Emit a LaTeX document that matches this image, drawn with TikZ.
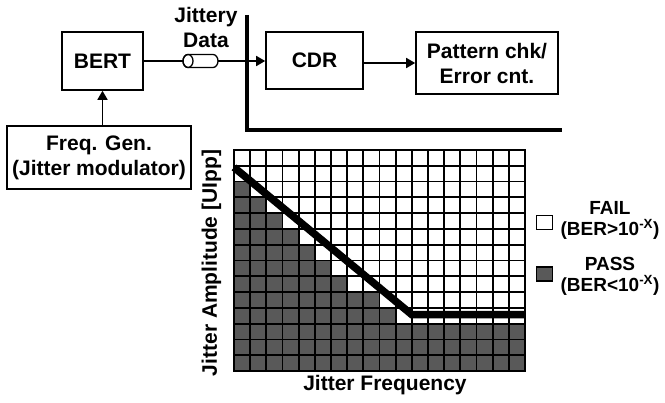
\documentclass[tikz,border=0pt]{standalone}
\usepackage{fontspec}
\setmainfont{Liberation Sans}
\usetikzlibrary{arrows.meta}
\newcommand\bigfnt{\fontsize{21}{25}\selectfont\bfseries}
\newcommand\legfnt{\fontsize{19}{21}\selectfont\bfseries}
\definecolor{passc}{RGB}{89,89,89}
\begin{document}
\begin{tikzpicture}[x=1pt,y=-1pt,
  box/.style={draw, line width=1.6pt, inner sep=0, align=center, font=\bigfnt},
  conn/.style={line width=1.6pt},
  arr/.style={line width=1.6pt, -{Triangle[length=9pt,width=10pt]}},
  gridl/.style={line width=1.8pt},
  lbl/.style={inner sep=0, align=center, font=\bigfnt},
  leg/.style={inner sep=0, align=center, font=\legfnt},
  legbox/.style={draw, line width=1.6pt, minimum width=16pt, minimum height=14pt, inner sep=0}
]
\useasboundingbox (0,0) rectangle (665,403);

% blocks
\node[box, minimum width=81pt, minimum height=58pt] (bert) at (102.5,61) {BERT};
\node[box, minimum width=97pt, minimum height=57pt] (cdr) at (314.5,60.5) {CDR};
\node[box, minimum width=142pt, minimum height=62pt] (pat) at (487,63) {Pattern chk/\\Error cnt.};
\node[box, minimum width=184pt, minimum height=63pt] (freq) at (99,157.5) {Freq. Gen.\\(Jitter modulator)};
\node[lbl] (jd) at (206,27) {Jittery\\Data};

% thick separator line
\coordinate (sepT) at (247,15);
\coordinate (sepC) at (247,130);
\coordinate (sepR) at (562,130);
\draw[line width=4pt, line join=miter] (sepT) -- (sepC) -- (sepR);

% cable
\coordinate (cabL) at (183,61);
\coordinate (cabR) at (218,61);
\draw[conn] (bert.east) -- (cabL);
\draw[arr] (cabR) -- (cabR -| cdr.west);
\draw[line width=1.3pt, fill=white] (188,54.5) -- (213,54.5)
   arc[start angle=-90, end angle=90, x radius=5, y radius=6.5]
   -- (188,67.5)
   arc[start angle=90, end angle=270, x radius=5, y radius=6.5] -- cycle;
\draw[line width=1.3pt] (188,61) ellipse [x radius=5, y radius=6.5];

\draw[arr] (cdr.east |- pat.west) -- (pat.west);
\draw[arr] (bert.south |- freq.north) -- (bert.south);

% shmoo grid
\begin{scope}[shift={(234,150)}, x=16.17pt, y=-15.79pt]
  \foreach \r/\n in {2/1,3/2,4/3,5/4,6/5,7/6,8/7,9/9,10/10,11/18,12/18,13/18}
    \fill[passc] (0,\r) rectangle (\n,\r+1);
  \foreach \i in {1,...,17} \draw[gridl] (\i,0) -- (\i,14);
  \foreach \j in {1,...,13} \draw[gridl] (0,\j) -- (18,\j);
  \draw[line width=2.4pt] (0,0) rectangle (18,14);
  \draw[line width=7.5pt, line join=miter] (0,1.1) -- (11,10.43) -- (18,10.43);
\end{scope}

% axis labels
\node[lbl] (xlab) at (385,385.5) {Jitter Frequency};
\node[lbl, rotate=90] (ylab) at (211.5,263) {Jitter Amplitude [UIpp]};

% legend
\node[legbox, fill=white] (failbox) at (544.5,222.5) {};
\node[legbox, fill=passc] (passbox) at (544.5,274) {};
\node[leg] (failtxt) at (610,220) {FAIL\\(BER>10\textsuperscript{-X})};
\node[leg] (passtxt) at (610,276) {PASS\\(BER<10\textsuperscript{-X})};
\end{tikzpicture}
\end{document}
